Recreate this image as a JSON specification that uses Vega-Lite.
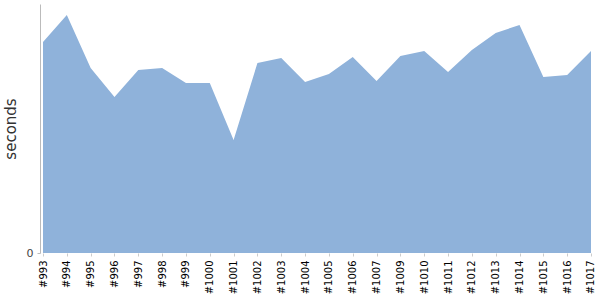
{
  "$schema": "https://vega.github.io/schema/vega-lite/v6.json",
  "autosize": "none",
  "padding": {"left": 40, "top": 4, "right": 6, "bottom": 47},
  "width": 554,
  "height": 249,
  "background": "white",
  "config": {"view": {"stroke": null}, "font": "DejaVu Sans"},
  "data": {"values": [
    {"build": "#993", "seconds": 211},
    {"build": "#994", "seconds": 238},
    {"build": "#995", "seconds": 185},
    {"build": "#996", "seconds": 156},
    {"build": "#997", "seconds": 183},
    {"build": "#998", "seconds": 185},
    {"build": "#999", "seconds": 170},
    {"build": "#1000", "seconds": 170},
    {"build": "#1001", "seconds": 113},
    {"build": "#1002", "seconds": 190},
    {"build": "#1003", "seconds": 195},
    {"build": "#1004", "seconds": 171},
    {"build": "#1005", "seconds": 179},
    {"build": "#1006", "seconds": 196},
    {"build": "#1007", "seconds": 172},
    {"build": "#1009", "seconds": 197},
    {"build": "#1010", "seconds": 202},
    {"build": "#1011", "seconds": 181},
    {"build": "#1012", "seconds": 203},
    {"build": "#1013", "seconds": 220},
    {"build": "#1014", "seconds": 228},
    {"build": "#1015", "seconds": 176},
    {"build": "#1016", "seconds": 178},
    {"build": "#1017", "seconds": 202}
  ]},
  "mark": {"type": "area", "color": "#8fb2da", "opacity": 1},
  "encoding": {
    "x": {
      "field": "build", "type": "ordinal", "sort": null,
      "scale": {"type": "point", "padding": 0.126},
      "axis": {
        "title": null, "labelAngle": -90, "labelFontSize": 10, "labelColor": "#000",
        "labelPadding": 4, "tickSize": 3, "tickColor": "#ccc", "domain": false,
        "labelFont": "DejaVu Sans"
      }
    },
    "y": {
      "field": "seconds", "type": "quantitative",
      "scale": {"domain": [0, 249], "nice": false},
      "axis": {
        "title": "seconds", "titleFontSize": 15, "titleFontWeight": "normal", "titleColor": "#333",
        "titlePadding": 8, "values": [0], "labelFontSize": 11, "labelColor": "#444",
        "labelPadding": 4, "tickSize": 3, "tickColor": "#bbb", "domainColor": "#bbb", "grid": false,
        "labelFont": "DejaVu Sans", "titleFont": "DejaVu Sans"
      }
    }
  }
}
